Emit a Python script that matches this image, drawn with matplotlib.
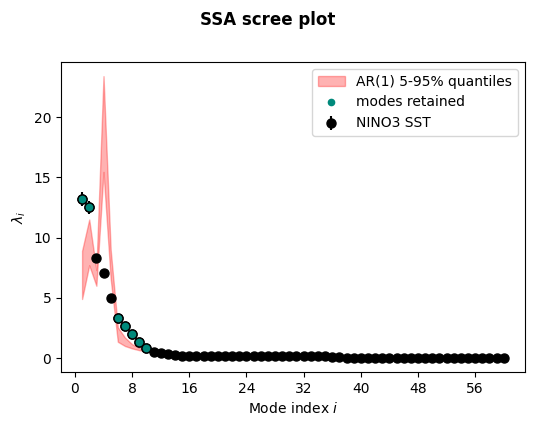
import numpy as np
import matplotlib.pyplot as plt
from matplotlib.lines import Line2D

# eigenvalues of the NINO3 SST SSA, modes 1..60
eigvals = [13.2, 12.5, 8.3, 7.06, 4.98, 3.35, 2.7, 2.0, 1.33, 0.8,
           0.5, 0.38, 0.33, 0.25, 0.2, 0.19, 0.18, 0.18, 0.17, 0.17,
           0.17, 0.16, 0.16, 0.16, 0.15, 0.15, 0.15, 0.14, 0.14, 0.14,
           0.14, 0.13, 0.13, 0.13, 0.13, 0.12, 0.12, 0.03, 0.03, 0.03,
           0.03, 0.03, 0.03, 0.03, 0.03, 0.02, 0.02, 0.02, 0.02, 0.02,
           0.02, 0.02, 0.02, 0.02, 0.02, 0.02, 0.02, 0.02, 0.02, 0.02]
eig_err = [0.55, 0.52, 0.35, 0.3, 0.21, 0.14, 0.11, 0.08, 0.06, 0.03,
           0.02, 0.02, 0.01, 0.01, 0.01, 0.01, 0.01, 0.01, 0.01, 0.01,
           0.01, 0.01, 0.01, 0.01, 0.0, 0.0, 0.0, 0.0, 0.0, 0.0,
           0.0, 0.0, 0.0, 0.0, 0.0, 0.0, 0.0, 0.0, 0.0, 0.0,
           0.0, 0.0, 0.0, 0.0, 0.0, 0.0, 0.0, 0.0, 0.0, 0.0,
           0.0, 0.0, 0.0, 0.0, 0.0, 0.0, 0.0, 0.0, 0.0, 0.0]
# AR(1) surrogate quantiles
q05 = [4.9, 7.7, 6.0, 15.45, 6.6, 1.35, 1.0, 0.8, 0.65, 0.55,
       0.4, 0.3, 0.25, 0.2, 0.16, 0.14, 0.13, 0.12, 0.11, 0.11,
       0.1, 0.1, 0.09, 0.09, 0.08, 0.08, 0.08, 0.07, 0.07, 0.07,
       0.06, 0.06, 0.06, 0.06, 0.05, 0.05, 0.05, 0.04, 0.04, 0.04,
       0.04, 0.04, 0.04, 0.04, 0.03, 0.03, 0.03, 0.03, 0.03, 0.03,
       0.03, 0.03, 0.02, 0.02, 0.02, 0.02, 0.02, 0.02, 0.02, 0.02]
q95 = [8.9, 11.5, 7.3, 23.4, 9.0, 2.55, 1.7, 1.15, 0.85, 0.6,
       0.45, 0.36, 0.3, 0.24, 0.2, 0.18, 0.16, 0.15, 0.14, 0.13,
       0.12, 0.12, 0.11, 0.11, 0.1, 0.1, 0.1, 0.09, 0.09, 0.09,
       0.08, 0.08, 0.08, 0.07, 0.07, 0.07, 0.07, 0.06, 0.06, 0.06,
       0.06, 0.05, 0.05, 0.05, 0.05, 0.05, 0.05, 0.04, 0.04, 0.04,
       0.04, 0.04, 0.04, 0.04, 0.03, 0.03, 0.03, 0.03, 0.03, 0.03]
retained = [1, 2, 6, 7, 8, 9, 10]

modes = np.arange(1, len(eigvals) + 1)
eigvals = np.array(eigvals)

fig = plt.figure(figsize=(5.35, 4.25), dpi=100)
ax = fig.add_axes([0.114, 0.125, 0.867, 0.729])

ax.fill_between(modes, q05, q95, color='red', alpha=0.3,
                label='AR(1) 5-95% quantiles')
ax.errorbar(modes, eigvals, yerr=eig_err, fmt='o', color='black',
            markersize=6.5, label='NINO3 SST', zorder=2)
idx = np.array(retained) - 1
ax.plot(modes[idx], eigvals[idx], 'o', color='#00897b',
        markeredgecolor='black', markersize=6.5, zorder=4)

handles, labels = ax.get_legend_handles_labels()
teal = Line2D([], [], marker='o', linestyle='none', color='#00897b',
              markersize=4.5)
ax.legend([handles[0], teal, handles[1]],
          ['AR(1) 5-95% quantiles', 'modes retained', 'NINO3 SST'],
          loc='upper right')

ax.set_xticks(np.arange(0, 57, 8))
ax.set_xlabel('Mode index $i$')
ax.set_ylabel(r'$\lambda_i$')
fig.suptitle('SSA scree plot', fontweight='bold', fontsize=12, y=0.975)

fig.savefig('out.png')
